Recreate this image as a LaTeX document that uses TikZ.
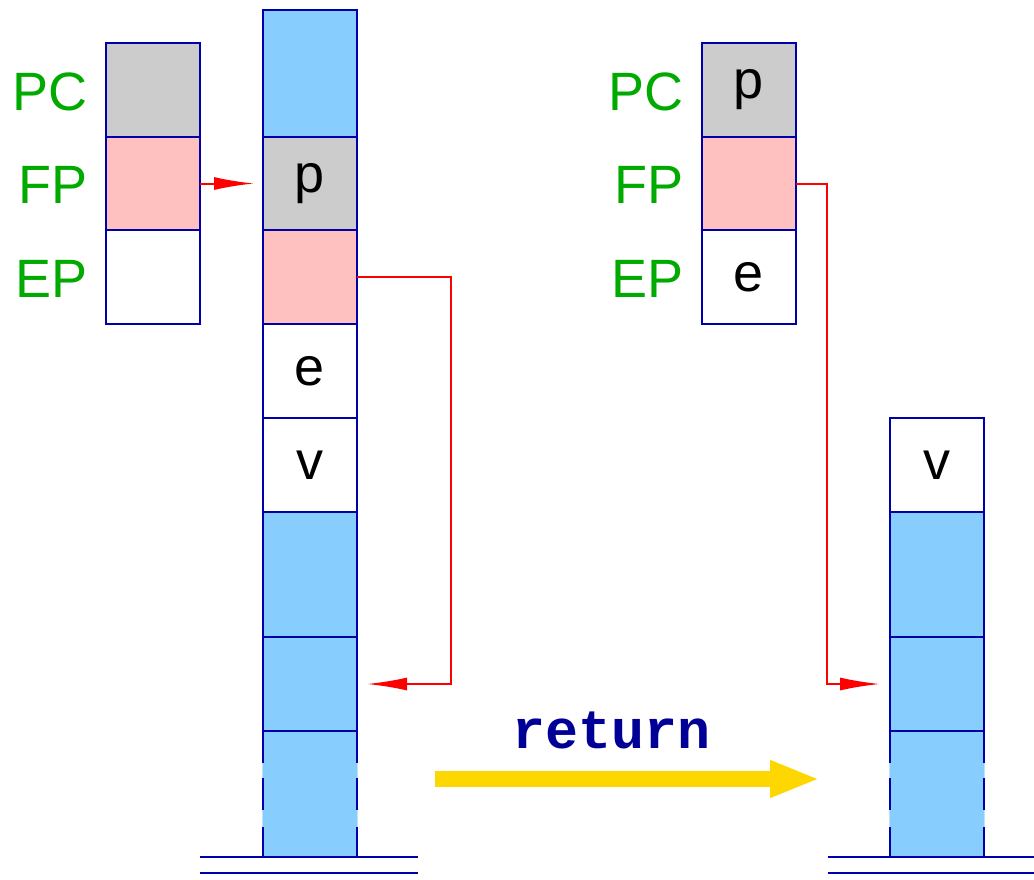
\documentclass[tikz,border=0pt]{standalone}
\usepackage{fontspec}
\setmainfont{Liberation Sans}
\newfontfamily\codefont{Liberation Mono}
\usetikzlibrary{arrows.meta}
\definecolor{edgeblue}{RGB}{0,0,170}
\definecolor{stackblue}{RGB}{135,206,255}
\definecolor{cellgray}{RGB}{204,204,204}
\definecolor{cellpink}{RGB}{255,192,192}
\definecolor{labgreen}{RGB}{0,170,0}
\definecolor{gold}{RGB}{255,215,0}
\definecolor{codeblue}{RGB}{0,0,150}
\begin{document}
\begin{tikzpicture}[x=1pt,y=-1pt,
  cell/.style={draw=edgeblue, line width=2pt, minimum width=94pt, inner sep=0pt, outer sep=0pt,
               font=\fontsize{54}{58}\selectfont, text=black},
  fillcell/.style={fill=stackblue, minimum width=94pt, inner sep=0pt, outer sep=0pt},
  reglab/.style={anchor=east, inner sep=0pt, text=labgreen, font=\fontsize{54}{58}\selectfont},
  edgeline/.style={draw=edgeblue, line width=2pt},
  sideline/.style={draw=edgeblue, line width=2pt, dash pattern=on 32pt off 15pt on 32pt off 17pt on 40pt},
  ptr/.style={draw=red, line width=2pt, -{Latex[length=40pt,width=13pt]}},
  bigarrow/.style={draw=gold, line width=16pt, -{Triangle[length=50pt,width=34pt]}}
]
\useasboundingbox (0,0) rectangle (1034,879);

% ---- left registers
\node[cell, fill=cellgray, minimum height=94pt] (lpc) at (153,90) {};
\node[cell, fill=cellpink, minimum height=93pt] (lfp) at (153,183.5) {};
\node[cell, fill=white, minimum height=94pt] (lep) at (153,277) {};
\node[reglab] (lpcl) at (88,92) {PC};
\node[reglab] (lfpl) at (88,185) {FP};
\node[reglab] (lepl) at (88,279) {EP};

% ---- left stack
\node[cell, fill=stackblue, minimum height=127pt] (s1) at (310,73.5) {};
\node[cell, fill=cellgray, minimum height=93pt] (s2) at (310,183.5) {p};
\node[cell, fill=cellpink, minimum height=94pt] (s3) at (310,277) {};
\node[cell, fill=white, minimum height=94pt] (s4) at (310,371) {e};
\node[cell, fill=white, minimum height=94pt] (s5) at (310,465) {v};
\node[cell, fill=stackblue, minimum height=125pt] (s6) at (310,574.5) {};
\node[cell, fill=stackblue, minimum height=94pt] (s7) at (310,684) {};
\node[fillcell, minimum height=126pt] (s8) at (310,794) {};
\fill[stackblue!55] ([xshift=-1pt]s8.north west) rectangle ([xshift=1pt]s8.south east);
\fill[stackblue] (s8.north west) rectangle (s8.south east);
\draw[edgeline] (s8.north west) -- (s8.north east);
\draw[edgeline] (s8.south west) -- (s8.south east);
\draw[sideline] (s8.north west) -- (s8.south west);
\draw[sideline] (s8.north east) -- (s8.south east);
\coordinate (lg1a) at (200,857); \coordinate (lg1b) at (418,857);
\coordinate (lg2a) at (200,873); \coordinate (lg2b) at (418,873);
\draw[edgeline] (lg1a) -- (lg1b);
\draw[edgeline] (lg2a) -- (lg2b);

% ---- left pointers
\draw[ptr, shorten >=9pt] (lfp.east) -- (s2.west);
\draw[ptr] (s3.east) -- ++(94,0) |- ([xshift=10pt]s7.east);

% ---- right registers
\node[cell, fill=cellgray, minimum height=94pt] (rpc) at (749,90) {p};
\node[cell, fill=cellpink, minimum height=93pt] (rfp) at (749,183.5) {};
\node[cell, fill=white, minimum height=94pt] (rep) at (749,277) {e};
\node[reglab] (rpcl) at (684,92) {PC};
\node[reglab] (rfpl) at (684,185) {FP};
\node[reglab] (repl) at (684,279) {EP};

% ---- right stack
\node[cell, fill=white, minimum height=94pt] (r1) at (937,465) {v};
\node[cell, fill=stackblue, minimum height=125pt] (r2) at (937,574.5) {};
\node[cell, fill=stackblue, minimum height=94pt] (r3) at (937,684) {};
\node[fillcell, minimum height=126pt] (r4) at (937,794) {};
\fill[stackblue!55] ([xshift=-1pt]r4.north west) rectangle ([xshift=1pt]r4.south east);
\fill[stackblue] (r4.north west) rectangle (r4.south east);
\draw[edgeline] (r4.north west) -- (r4.north east);
\draw[edgeline] (r4.south west) -- (r4.south east);
\draw[sideline] (r4.north west) -- (r4.south west);
\draw[sideline] (r4.north east) -- (r4.south east);
\coordinate (rg1a) at (828,857); \coordinate (rg1b) at (1034,857);
\coordinate (rg2a) at (828,873); \coordinate (rg2b) at (1034,873);
\draw[edgeline] (rg1a) -- (rg1b);
\draw[edgeline] (rg2a) -- (rg2b);

% ---- right pointer
\draw[ptr] (rfp.east) -- ++(31,0) |- ([xshift=-10pt]r3.west);

% ---- return arrow
\coordinate (ya) at (435,779);
\coordinate (yb) at (820,779);
\draw[bigarrow] (ya) -- (yb);
\node[anchor=base, inner sep=0pt, text=codeblue, font=\codefont\bfseries\fontsize{55}{60}\selectfont] (ret) at (612,748) {return};
\end{tikzpicture}
\end{document}
